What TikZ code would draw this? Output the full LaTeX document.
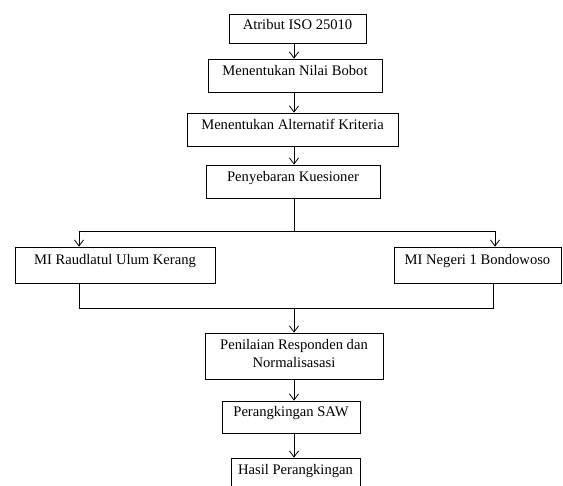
\documentclass[tikz,border=0pt]{standalone}
\usepackage{fontspec}
\setmainfont{Liberation Serif}
\usetikzlibrary{arrows.meta}
\begin{document}
\begin{tikzpicture}[x=1pt,y=-1pt,
  box/.style={draw=black,line width=0.8pt,inner sep=0pt,align=center,
    font=\fontsize{14.6}{18}\selectfont,text depth=10.5pt},
  arr/.style={line width=0.8pt,-{Straight Barb[length=6pt,width=9pt,line width=0.8pt]}},
  ln/.style={line width=0.8pt}]
\useasboundingbox (0,0) rectangle (563,486);
\clip (0,0) rectangle (563,486);
\node[box,text depth=8.5pt,minimum width=137pt,minimum height=29pt] (b1) at (297.5,28.5) {Atribut ISO 25010};
\node[box,minimum width=174pt,minimum height=33pt] (b2) at (295,75.5) {Menentukan Nilai Bobot};
\node[box,minimum width=211pt,minimum height=33pt] (b3) at (292.5,129.5) {Menentukan Alternatif Kriteria};
\node[box,minimum width=174pt,minimum height=33pt] (b4) at (293,181.5) {Penyebaran Kuesioner};
\node[box,minimum width=200pt,minimum height=36pt] (mir) at (115,265) {MI Raudlatul Ulum Kerang};
\node[box,minimum width=167pt,minimum height=36pt] (min) at (477.5,265) {MI Negeri 1 Bondowoso};
\node[box,text depth=5pt,minimum width=178pt,minimum height=46pt] (b5) at (294,356) {Penilaian Responden dan\\Normalisasasi};
\node[box,minimum width=138pt,minimum height=32pt] (b6) at (291,417) {Perangkingan SAW};
\node[box,minimum width=129pt,minimum height=33pt] (b7) at (295.5,474.5) {Hasil Perangkingan};
\coordinate (col) at (294,0);
\coordinate (sl) at (79,231);
\coordinate (sr) at (495,231);
\coordinate (jl) at (79,308);
\coordinate (jr) at (493,308);
\draw[arr] (b1.south -| col) -- (b2.north -| col);
\draw[arr] (b2.south -| col) -- (b3.north -| col);
\draw[arr] (b3.south -| col) -- (b4.north -| col);
\draw[ln] (b4.south -| col) -- (sl -| col);
\draw[ln] (sl) -- (sr);
\draw[arr] (sl) -- (sl |- mir.north);
\draw[arr] (sr) -- (sr |- min.north);
\draw[ln] (jl |- mir.south) -- (jl) -- (jr) -- (jr |- min.south);
\draw[arr] (jl -| col) -- (b5.north -| col);
\draw[arr] (b5.south -| col) -- (b6.north -| col);
\draw[arr] (b6.south -| col) -- (b7.north -| col);
\end{tikzpicture}
\end{document}
